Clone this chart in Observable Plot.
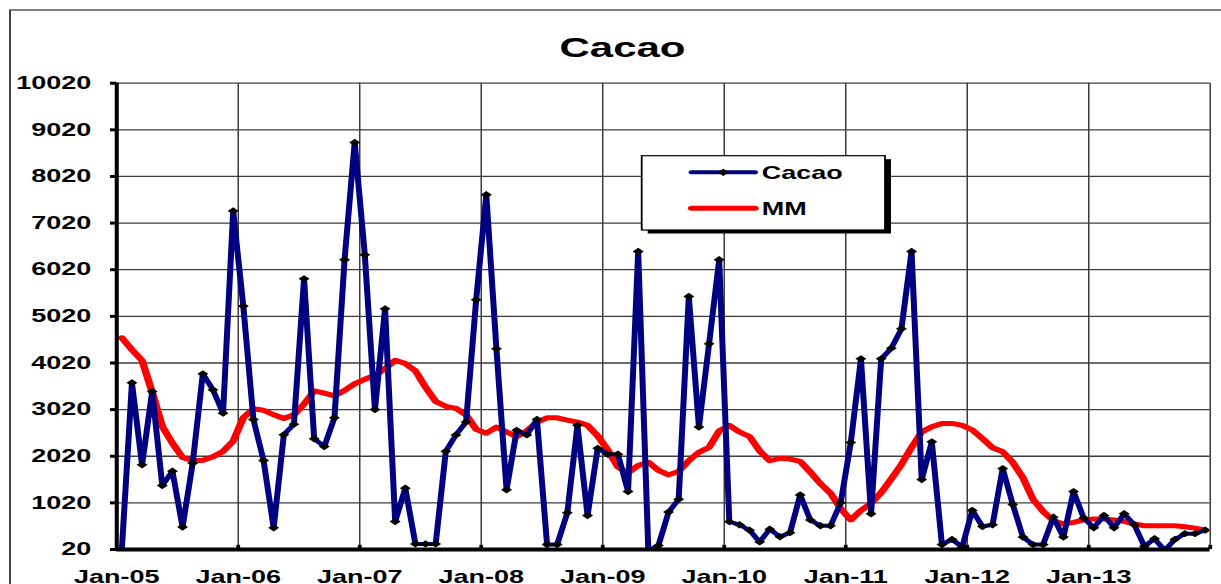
<!DOCTYPE html>
<html>
<head>
<meta charset="utf-8">
<script src="https://cdn.jsdelivr.net/npm/d3@7"></script>
<script src="https://cdn.jsdelivr.net/npm/@observablehq/plot@0.6"></script>
<style>
  html, body { margin: 0; padding: 0; background: #fff; overflow: hidden; }
</style>
</head>
<body>
<div id="chart"></div>
<script>
// ---- data (monthly, Jan-05 .. Dec-13) ----
const cacao = [
  0, 3595, 1836, 3408, 1392, 1700, 500, 1871, 3788, 3445, 2943, 7280,
  5240, 2808, 1929, 485, 2480, 2707, 5825, 2394, 2229, 2844, 6233, 8750,
  6340, 3020, 5182, 620, 1335, 140, 140, 140, 2126, 2477, 2752, 5375,
  7627, 4324, 1300, 2576, 2477, 2809, 127, 127, 807, 2682, 749, 2189,
  2062, 2062, 1264, 6411, 0, 106, 822, 1095, 5446, 2646, 4431, 6233,
  617, 551, 434, 183, 456, 293, 381, 1190, 654, 529, 529, 1020,
  2316, 4109, 787, 4109, 4337, 4753, 6411, 1520, 2329, 126, 236, 70,
  859, 513, 551, 1756, 985, 287, 126, 126, 712, 287, 1262, 698,
  485, 749, 485, 787, 551, 88, 251, 0, 236, 359, 359, 434
];
const mm = [
  4560, 4303, 4073, 3393, 2658, 2300, 1993, 1922, 1935, 2008, 2122, 2343,
  2844, 3037, 3007, 2909, 2829, 2909, 3136, 3423, 3372, 3316, 3430, 3573,
  3672, 3751, 3900, 4077, 4007, 3851, 3500, 3196, 3090, 3048, 2908, 2597,
  2513, 2646, 2540, 2443, 2561, 2752, 2844, 2844, 2794, 2752, 2682, 2456,
  2153, 1787, 1667, 1821, 1892, 1716, 1620, 1696, 1923, 2105, 2210, 2561,
  2682, 2540, 2443, 2132, 1923, 1976, 1960, 1910, 1681, 1432, 1227, 897,
  654, 859, 1007, 1240, 1535, 1844, 2210, 2540, 2654, 2724, 2723, 2682,
  2583, 2400, 2202, 2117, 1888, 1557, 1095, 837, 639, 566, 601, 654,
  676, 676, 654, 624, 566, 529, 529, 529, 529, 507, 478, 434
];
const yTicks = [20, 1020, 2020, 3020, 4020, 5020, 6020, 7020, 8020, 9020, 10020];
const xTickLabels = ["Jan-05", "Jan-06", "Jan-07", "Jan-08", "Jan-09", "Jan-10", "Jan-11", "Jan-12", "Jan-13"];
const seriesNames = ["Cacao", "MM"];
const titleText = "Cacao";

// ---- build ----
const rows = cacao.map((v, i) => ({x: i + 0.5, cacao: v, mm: mm[i]}));
const nMonths = cacao.length;                       // 108 categories
const yearBounds = d3.range(0, nMonths + 1, 12);   // category boundaries at each January
const labelPos = yearBounds.slice(0, xTickLabels.length);

const SX = 1.5;                 // horizontal stretch of the original picture
const W = 1221 / SX, H = 584;

const chart = Plot.plot({
  width: W,
  height: H,
  marginLeft: 77.33,
  marginRight: 7.67,
  marginTop: 82.7,
  marginBottom: 35,
  x: {domain: [0, nMonths]},
  y: {domain: [20, 10020]},
  style: {fontFamily: "'Liberation Sans', Arial, sans-serif", fontWeight: "bold", fontSize: "18px", color: "black", background: "white"},
  marks: [
    Plot.ruleY(yTicks, {stroke: "#3c3c3c", strokeWidth: 1.3}),
    Plot.ruleX(yearBounds, {stroke: "#3c3c3c", strokeWidth: 1}),
    Plot.line(rows, {x: "x", y: "mm", stroke: "#ff0000", strokeWidth: 5, clip: true}),
    Plot.line(rows, {x: "x", y: "cacao", stroke: "#000080", strokeWidth: 4, clip: true}),
    Plot.dot(rows, {x: "x", y: "cacao", symbol: "diamond2", r: 3.3, fill: "black", stroke: null, clip: true}),
    Plot.ruleY([20], {stroke: "black", strokeWidth: 4}),
    Plot.ruleX([0], {stroke: "black", strokeWidth: 2.7}),
    Plot.ruleX(yearBounds.slice(1), {y1: 20, y2: 110, stroke: "black", strokeWidth: 2.5}),
    Plot.axisY({ticks: yTicks, tickSize: 4, tickPadding: 13, strokeWidth: 3, fontSize: 18, tickFormat: d => String(d), label: null}),
    Plot.axisX({ticks: labelPos, tickSize: 0, tickPadding: 21, fontSize: 18, tickFormat: d => xTickLabels[d / 12], label: null})
  ]
});

// stretch horizontally like the original
chart.setAttribute("width", 1221);
chart.setAttribute("height", 584);
chart.setAttribute("viewBox", `0 0 ${W} ${H}`);
chart.setAttribute("preserveAspectRatio", "none");
chart.style.width = "1221px";
chart.style.height = "584px";
chart.style.maxWidth = "none";
chart.style.display = "block";

const svg = d3.select(chart);

// outer chart border
svg.append("rect")
  .attr("x", 6.67).attr("y", 10).attr("width", 1000).attr("height", 1000)
  .attr("fill", "none").attr("stroke", "#404040").attr("stroke-width", 1.3);

// title
svg.append("text")
  .attr("x", 415).attr("y", 57)
  .attr("text-anchor", "middle")
  .attr("font-size", 28).attr("font-weight", "bold")
  .attr("fill", "black")
  .text(titleText);

// legend
const lg = svg.append("g").attr("text-anchor", "start");
const lx = 427.8, ly = 155.7, lw = 162.2, lh = 74.3;
lg.append("rect").attr("x", lx + 4).attr("y", ly + 3.5).attr("width", lw).attr("height", lh)
  .attr("fill", "black").attr("stroke", "none");
lg.append("rect").attr("x", lx).attr("y", ly).attr("width", lw).attr("height", lh)
  .attr("fill", "white").attr("stroke", "black").attr("stroke-width", 1.2);
const entries = [
  {name: seriesNames[0], color: "#000080", width: 4, y: 172.3, marker: true},
  {name: seriesNames[1], color: "#ff0000", width: 5, y: 208.3, marker: false}
];
for (const e of entries) {
  lg.append("line").attr("x1", 461.1).attr("x2", 503.3).attr("y1", e.y).attr("y2", e.y)
    .attr("stroke", e.color).attr("stroke-width", e.width).attr("stroke-linecap", "round");
  if (e.marker) {
    lg.append("path").attr("transform", `translate(482.2,${e.y})`)
      .attr("d", d3.symbol(d3.symbolDiamond2, Math.PI * 3.3 * 3.3)())
      .attr("fill", "black");
  }
  lg.append("text").attr("x", 507.8).attr("y", e.y + 6.5)
    .attr("text-anchor", "start")
    .attr("font-size", 18).attr("font-weight", "bold").attr("fill", "black")
    .text(e.name);
}

document.getElementById("chart").appendChild(chart);
</script>
</body>
</html>
